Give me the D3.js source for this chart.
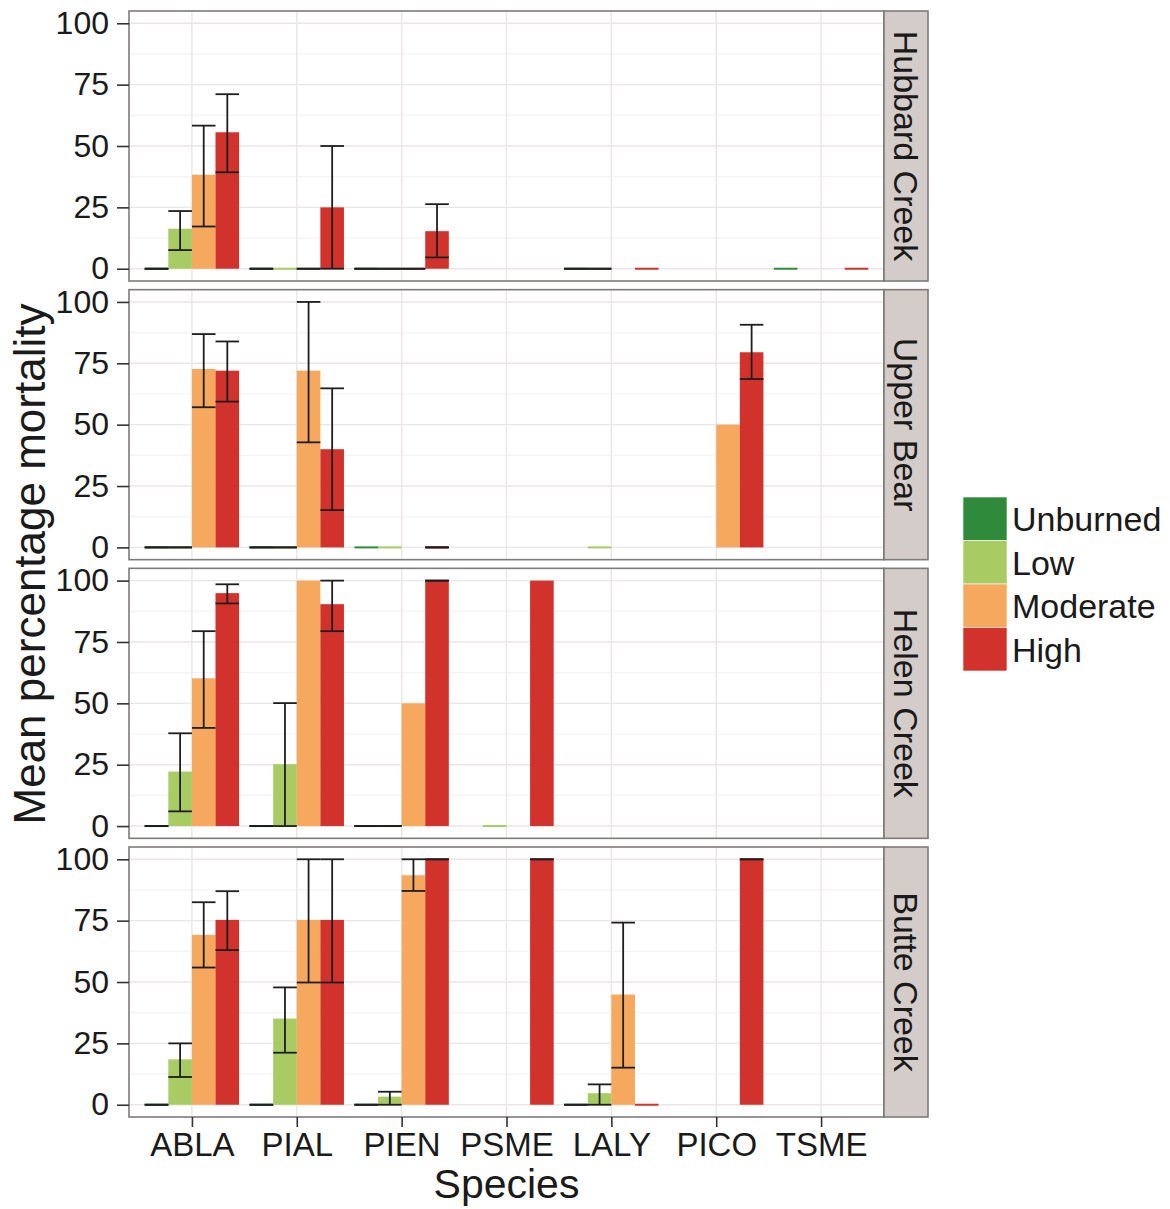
<!DOCTYPE html>
<html>
<head>
<meta charset="utf-8">
<script src="https://cdn.jsdelivr.net/npm/d3@7"></script>
<style>
  body { margin: 0; background: #fff; }
  svg { display: block; font-family: "Liberation Sans", Arial, sans-serif; }
</style>
</head>
<body>
<script>
const species = ["ABLA", "PIAL", "PIEN", "PSME", "LALY", "PICO", "TSME"];
const severities = ["Unburned", "Low", "Moderate", "High"];
const sites = ["Hubbard Creek", "Upper Bear", "Helen Creek", "Butte Creek"];
const yTicks = [0, 25, 50, 75, 100];
const colors = ["#2f8a3c", "#a8cb64", "#f5a85e", "#d2322c"];

// rows = species, columns = Unburned, Low, Moderate, High (null = no bar / no error bar)
const hubbardMean = [[0, 16.3, 38.3, 55.6], [0, 0, 0, 25], [0, 0, 0, 15.3], [null, null, null, null], [0, 0, null, 0], [null, null, null, null], [0, null, null, 0]];
const hubbardLo   = [[0, 7.6, 17.2, 39.3], [0, null, 0, 0], [0, 0, 0, 4.6], [null, null, null, null], [0, 0, null, null], [null, null, null, null], [null, null, null, null]];
const hubbardHi   = [[0, 23.5, 58.3, 71.1], [0, null, 0, 50], [0, 0, 0, 26.3], [null, null, null, null], [0, 0, null, null], [null, null, null, null], [null, null, null, null]];

const bearMean = [[0, 0, 72.7, 72], [0, 0, 72, 40], [0, 0, null, 0], [null, null, null, null], [null, 0, null, null], [null, null, 50, 79.5], [null, null, null, null]];
const bearLo   = [[0, 0, 57.1, 59.4], [0, 0, 42.8, 15.2], [null, null, null, 0], [null, null, null, null], [null, null, null, null], [null, null, null, 68.6], [null, null, null, null]];
const bearHi   = [[0, 0, 86.9, 83.9], [0, 0, 100, 64.8], [null, null, null, 0], [null, null, null, null], [null, null, null, null], [null, null, null, 90.7], [null, null, null, null]];

const helenMean = [[0, 22.2, 60.2, 94.9], [0, 25.2, 100, 90.4], [0, 0, 50, 100], [null, 0, null, 100], [null, null, null, null], [null, null, null, null], [null, null, null, null]];
const helenLo   = [[0, 6, 40, 90.7], [0, 0, null, 79.4], [0, 0, null, 100], [null, null, null, null], [null, null, null, null], [null, null, null, null], [null, null, null, null]];
const helenHi   = [[0, 37.8, 79.4, 98.5], [0, 50.1, null, 100], [0, 0, null, 100], [null, null, null, null], [null, null, null, null], [null, null, null, null], [null, null, null, null]];

const butteMean = [[0, 18.5, 69.2, 75.3], [0, 35.1, 75.3, 75.3], [0, 3.3, 93.5, 100], [null, null, null, 100], [0, 4.7, 44.9, 0], [null, null, null, 100], [null, null, null, null]];
const butteLo   = [[0, 11.3, 55.9, 63], [0, 21.2, 49.8, 49.8], [0, 0, 87.1, 100], [null, null, null, 100], [0, 0, 15.1, null], [null, null, null, 100], [null, null, null, null]];
const butteHi   = [[0, 25, 82.5, 87], [0, 47.8, 100, 100], [0, 5.3, 100, 100], [null, null, null, 100], [0, 8.3, 74.2, null], [null, null, null, 100], [null, null, null, null]];

const siteData = [
  [hubbardMean, hubbardLo, hubbardHi],
  [bearMean, bearLo, bearHi],
  [helenMean, helenLo, helenHi],
  [butteMean, butteLo, butteHi]
];

const width = 1170, height = 1209;
const plotLeft = 129, plotRight = 884, stripW = 44;
const panelTop0 = 11, panelH = 270, panelStep = 278.67;

const svg = d3.select("body").append("svg")
    .attr("width", width)
    .attr("height", height)
    .attr("viewBox", [0, 0, width, height]);

const x = d3.scalePoint(species, [plotLeft, plotRight]).padding(0.6);
const step = x.step();
const barW = step * 0.9 / severities.length;
const sev = d3.scaleBand(severities, [-step * 0.45, step * 0.45]);
const color = d3.scaleOrdinal(severities, colors);

sites.forEach((site, i) => {
  const top = panelTop0 + i * panelStep;
  const y = d3.scaleLinear([-5, 105], [top + panelH, top]);
  const [mean, lo, hi] = siteData[i];
  const g = svg.append("g");

  // grid
  g.append("g")
    .selectAll("line")
    .data([12.5, 37.5, 62.5, 87.5])
    .join("line")
      .attr("x1", plotLeft).attr("x2", plotRight)
      .attr("y1", d => y(d)).attr("y2", d => y(d))
      .attr("stroke", "#f6f2f2").attr("stroke-width", 1.2);
  g.append("g")
    .selectAll("line")
    .data(yTicks)
    .join("line")
      .attr("x1", plotLeft).attr("x2", plotRight)
      .attr("y1", d => y(d)).attr("y2", d => y(d))
      .attr("stroke", "#ebe5e5").attr("stroke-width", 1.4);
  g.append("g")
    .selectAll("line")
    .data(species)
    .join("line")
      .attr("x1", d => x(d)).attr("x2", d => x(d))
      .attr("y1", top).attr("y2", top + panelH)
      .attr("stroke", "#ebe5e5").attr("stroke-width", 1.4);

  // bars
  const rows = [];
  species.forEach((sp, si) => severities.forEach((sv, vi) => {
    rows.push({sp, sv, mean: mean[si][vi], lo: lo[si][vi], hi: hi[si][vi]});
  }));

  // zero-height bars still show as a thin coloured line, as in the original
  g.append("g")
    .selectAll("rect")
    .data(rows.filter(d => d.mean != null))
    .join("rect")
      .attr("x", d => x(d.sp) + sev(d.sv))
      .attr("width", barW)
      .attr("y", d => Math.min(y(d.mean), y(0) - 1))
      .attr("height", d => Math.max(y(0) - y(d.mean), 2))
      .attr("fill", d => color(d.sv));

  // error bars
  const eb = g.append("g")
      .attr("stroke", "#1e1e1e")
      .attr("stroke-width", 1.8)
    .selectAll("g")
    .data(rows.filter(d => d.lo != null))
    .join("g");
  eb.append("line")
      .attr("x1", d => x(d.sp) + sev(d.sv) + barW / 2)
      .attr("x2", d => x(d.sp) + sev(d.sv) + barW / 2)
      .attr("y1", d => y(d.lo)).attr("y2", d => y(d.hi));
  eb.append("line")
      .attr("x1", d => x(d.sp) + sev(d.sv)).attr("x2", d => x(d.sp) + sev(d.sv) + barW)
      .attr("y1", d => y(d.lo)).attr("y2", d => y(d.lo));
  eb.append("line")
      .attr("x1", d => x(d.sp) + sev(d.sv)).attr("x2", d => x(d.sp) + sev(d.sv) + barW)
      .attr("y1", d => y(d.hi)).attr("y2", d => y(d.hi));

  // panel border
  g.append("rect")
      .attr("x", plotLeft).attr("y", top)
      .attr("width", plotRight - plotLeft).attr("height", panelH)
      .attr("fill", "none").attr("stroke", "#7f7b79").attr("stroke-width", 1.6);

  // strip
  g.append("rect")
      .attr("x", plotRight).attr("y", top)
      .attr("width", stripW).attr("height", panelH)
      .attr("fill", "#d3ccc8").attr("stroke", "#7f7b79").attr("stroke-width", 1.6);
  g.append("text")
      .attr("transform", `translate(${plotRight + stripW / 2},${top + panelH / 2}) rotate(90)`)
      .attr("text-anchor", "middle")
      .attr("dominant-baseline", "central")
      .attr("font-size", 34)
      .attr("fill", "#1a1a1a")
      .text(site);

  // y axis
  g.append("g")
      .attr("transform", `translate(${plotLeft},0)`)
      .call(d3.axisLeft(y).tickValues(yTicks).tickSize(12).tickPadding(8))
      .call(a => a.select(".domain").remove())
      .call(a => a.selectAll(".tick line").attr("stroke", "#333").attr("stroke-width", 1.6))
      .call(a => a.selectAll(".tick text")
        .attr("font-size", 32)
        .attr("font-family", "Liberation Sans, Arial, sans-serif")
        .attr("fill", "#1a1a1a"));

  if (i === sites.length - 1) {
    g.append("g")
        .attr("transform", `translate(0,${top + panelH})`)
        .call(d3.axisBottom(x).tickSize(10).tickPadding(6))
        .call(a => a.select(".domain").remove())
        .call(a => a.selectAll(".tick line").attr("stroke", "#333").attr("stroke-width", 1.6))
        .call(a => a.selectAll(".tick text")
          .attr("font-size", 33)
          .attr("font-family", "Liberation Sans, Arial, sans-serif")
          .attr("fill", "#1a1a1a"));
  }
});

// axis titles
svg.append("text")
    .attr("x", (plotLeft + plotRight) / 2)
    .attr("y", 1198)
    .attr("text-anchor", "middle")
    .attr("font-size", 41)
    .attr("fill", "#1a1a1a")
    .text("Species");

svg.append("text")
    .attr("transform", `translate(45,${panelTop0 + (3 * panelStep + panelH) / 2}) rotate(-90)`)
    .attr("text-anchor", "middle")
    .attr("font-size", 44)
    .attr("fill", "#1a1a1a")
    .text("Mean percentage mortality");

// legend
const legend = svg.append("g")
    .attr("transform", "translate(963,497)");
const key = legend.selectAll("g")
  .data(severities)
  .join("g")
    .attr("transform", (d, i) => `translate(0,${i * 43.5})`);
key.append("rect")
    .attr("width", 44).attr("height", 43.5)
    .attr("fill", d => color(d))
    .attr("stroke", "#fff").attr("stroke-width", 0.6);
key.append("text")
    .attr("x", 49)
    .attr("y", 22)
    .attr("dominant-baseline", "central")
    .attr("font-size", 34)
    .attr("fill", "#1a1a1a")
    .text(d => d);
</script>
</body>
</html>
